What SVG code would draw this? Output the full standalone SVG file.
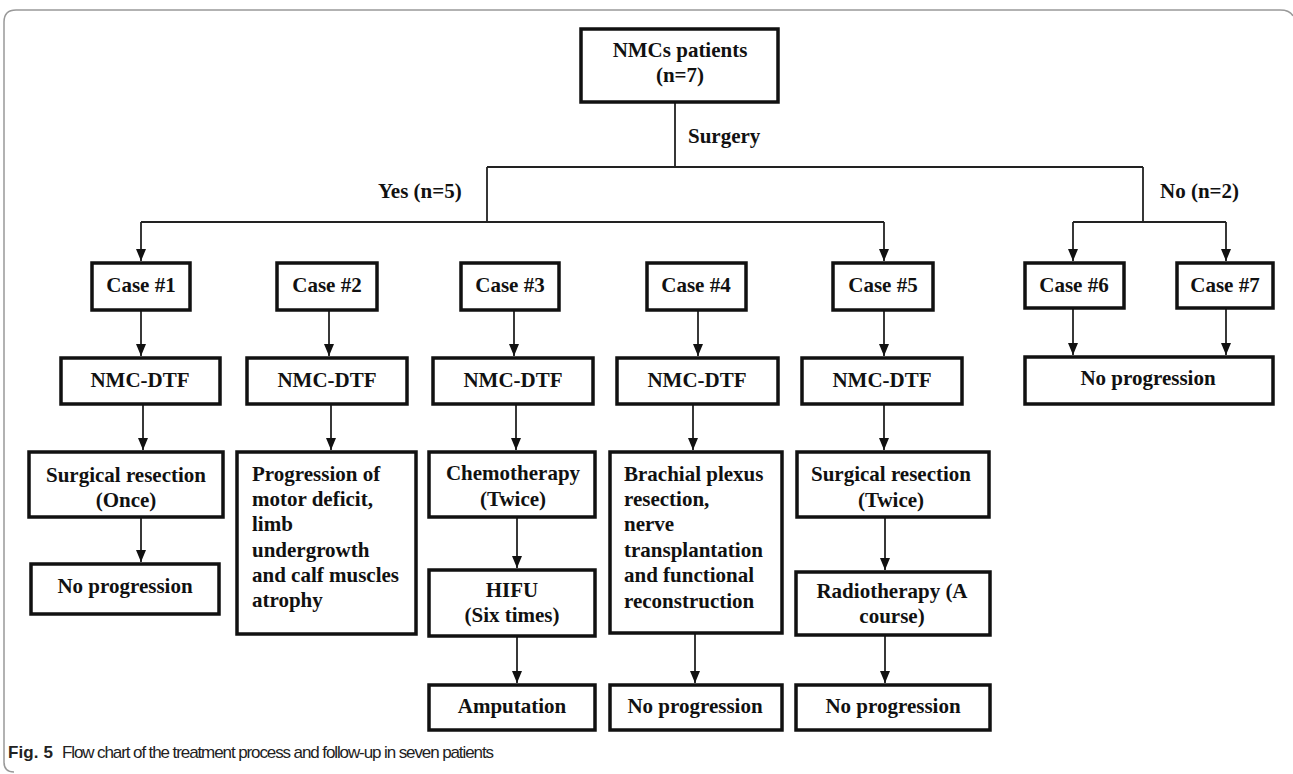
<svg xmlns="http://www.w3.org/2000/svg" width="1293" height="774" viewBox="0 0 1293 774">
<style>
.box{fill:#fff;stroke:#111;stroke-width:3.5}
.t{font-family:"Liberation Serif","Times New Roman",serif;font-weight:bold;font-size:21px;fill:#111}
.c{text-anchor:middle}
.ln{fill:none;stroke:#222;stroke-width:1.8}
.cap{font-family:"Liberation Sans",Arial,sans-serif;font-size:17px;fill:#222}
</style>
<defs>
<marker id="ah" viewBox="0 0 12 10" refX="12" refY="5" markerWidth="12" markerHeight="10" markerUnits="userSpaceOnUse" orient="auto">
<path d="M0,0 L12,5 L0,10 z" fill="#111"/>
</marker>
</defs>
<rect width="1293" height="774" fill="#fff"/>
<path d="M14,772 Q4,772 4,762 L4,22 Q4,10 16,10 L1280,10 Q1290,10 1293,16" fill="none" stroke="#999" stroke-width="1.5"/>

<g id="connectors">
<path class="ln" d="M675,102 V167 M487,167 H1143 M487,167 V222 M1143,167 V222 M141,222 H884 M1073,222 H1226"/>
<path class="ln" marker-end="url(#ah)" d="M141,222 V261"/>
<path class="ln" marker-end="url(#ah)" d="M884,222 V261"/>
<path class="ln" marker-end="url(#ah)" d="M1073,222 V261"/>
<path class="ln" marker-end="url(#ah)" d="M1226,222 V261"/>
<path class="ln" marker-end="url(#ah)" d="M141,310 V356"/>
<path class="ln" marker-end="url(#ah)" d="M329,310 V356"/>
<path class="ln" marker-end="url(#ah)" d="M514,310 V356"/>
<path class="ln" marker-end="url(#ah)" d="M698,310 V356"/>
<path class="ln" marker-end="url(#ah)" d="M884,310 V356"/>
<path class="ln" marker-end="url(#ah)" d="M1073,308 V355"/>
<path class="ln" marker-end="url(#ah)" d="M1226,308 V355"/>
<path class="ln" marker-end="url(#ah)" d="M143,404 V450"/>
<path class="ln" marker-end="url(#ah)" d="M331,404 V450"/>
<path class="ln" marker-end="url(#ah)" d="M516,404 V450"/>
<path class="ln" marker-end="url(#ah)" d="M693,404 V450"/>
<path class="ln" marker-end="url(#ah)" d="M884,404 V450"/>
<path class="ln" marker-end="url(#ah)" d="M141,517 V562"/>
<path class="ln" marker-end="url(#ah)" d="M517,517 V568"/>
<path class="ln" marker-end="url(#ah)" d="M517,636 V683"/>
<path class="ln" marker-end="url(#ah)" d="M695,633 V683"/>
<path class="ln" marker-end="url(#ah)" d="M885,517 V570"/>
<path class="ln" marker-end="url(#ah)" d="M885,635 V683"/>
</g>

<text class="t" x="688" y="143">Surgery</text>
<text class="t" x="378" y="198">Yes (n=5)</text>
<text class="t" x="1160" y="198">No (n=2)</text>

<g id="root"><rect class="box" x="581" y="29" width="197" height="73"/><text class="t c" x="680" y="57">NMCs patients</text><text class="t c" x="680" y="82">(n=7)</text></g>

<g id="case1"><rect class="box" x="92" y="263" width="98" height="47"/><text class="t c" x="141" y="292">Case #1</text></g>
<g id="case2"><rect class="box" x="277" y="263" width="100" height="47"/><text class="t c" x="327" y="292">Case #2</text></g>
<g id="case3"><rect class="box" x="461" y="263" width="98" height="47"/><text class="t c" x="510" y="292">Case #3</text></g>
<g id="case4"><rect class="box" x="647" y="263" width="99" height="47"/><text class="t c" x="696" y="292">Case #4</text></g>
<g id="case5"><rect class="box" x="833" y="263" width="100" height="47"/><text class="t c" x="883" y="292">Case #5</text></g>
<g id="case6"><rect class="box" x="1025" y="263" width="99" height="45"/><text class="t c" x="1074" y="292">Case #6</text></g>
<g id="case7"><rect class="box" x="1177" y="263" width="96" height="45"/><text class="t c" x="1225" y="292">Case #7</text></g>

<g id="dtf1"><rect class="box" x="61" y="358" width="159" height="46"/><text class="t c" x="140" y="387">NMC-DTF</text></g>
<g id="dtf2"><rect class="box" x="247" y="358" width="160" height="46"/><text class="t c" x="327" y="387">NMC-DTF</text></g>
<g id="dtf3"><rect class="box" x="433" y="358" width="160" height="46"/><text class="t c" x="513" y="387">NMC-DTF</text></g>
<g id="dtf4"><rect class="box" x="617" y="358" width="161" height="46"/><text class="t c" x="697" y="387">NMC-DTF</text></g>
<g id="dtf5"><rect class="box" x="802" y="358" width="160" height="46"/><text class="t c" x="882" y="387">NMC-DTF</text></g>
<g id="noprog67"><rect class="box" x="1025" y="357" width="248" height="47"/><text class="t c" x="1148" y="385">No progression</text></g>

<g id="surg1"><rect class="box" x="29" y="452" width="194" height="65"/><text class="t c" x="126" y="482">Surgical resection</text><text class="t c" x="126" y="507">(Once)</text></g>
<g id="noprog1"><rect class="box" x="31" y="564" width="188" height="50"/><text class="t c" x="125" y="593">No progression</text></g>

<g id="prog2"><rect class="box" x="237" y="452" width="179" height="182"/>
<text class="t" x="252" y="481">Progression of</text><text class="t" x="252" y="506">motor deficit,</text><text class="t" x="252" y="531">limb</text><text class="t" x="252" y="557">undergrowth</text><text class="t" x="252" y="582">and calf muscles</text><text class="t" x="252" y="607">atrophy</text></g>

<g id="chemo3"><rect class="box" x="429" y="452" width="166" height="65"/><text class="t c" x="513" y="480">Chemotherapy</text><text class="t c" x="513" y="506">(Twice)</text></g>
<g id="hifu3"><rect class="box" x="429" y="570" width="166" height="66"/><text class="t c" x="512" y="597">HIFU</text><text class="t c" x="512" y="622">(Six times)</text></g>
<g id="amp3"><rect class="box" x="429" y="685" width="166" height="45"/><text class="t c" x="512" y="713">Amputation</text></g>

<g id="brach4"><rect class="box" x="610" y="452" width="172" height="181"/>
<text class="t" x="624" y="481">Brachial plexus</text><text class="t" x="624" y="506">resection,</text><text class="t" x="624" y="531">nerve</text><text class="t" x="624" y="557">transplantation</text><text class="t" x="624" y="582">and functional</text><text class="t" x="624" y="608">reconstruction</text></g>
<g id="noprog4"><rect class="box" x="610" y="685" width="172" height="45"/><text class="t c" x="695" y="713">No progression</text></g>

<g id="surg5"><rect class="box" x="797" y="452" width="192" height="65"/><text class="t c" x="891" y="481">Surgical resection</text><text class="t c" x="891" y="507">(Twice)</text></g>
<g id="radio5"><rect class="box" x="796" y="572" width="194" height="63"/><text class="t c" x="892" y="598">Radiotherapy (A</text><text class="t c" x="892" y="623">course)</text></g>
<g id="noprog5"><rect class="box" x="796" y="685" width="194" height="45"/><text class="t c" x="893" y="713">No progression</text></g>

<text class="cap" x="8" y="758"><tspan font-weight="bold" textLength="45">Fig. 5</tspan><tspan x="62" textLength="432">Flow chart of the treatment process and follow-up in seven patients</tspan></text>
</svg>
